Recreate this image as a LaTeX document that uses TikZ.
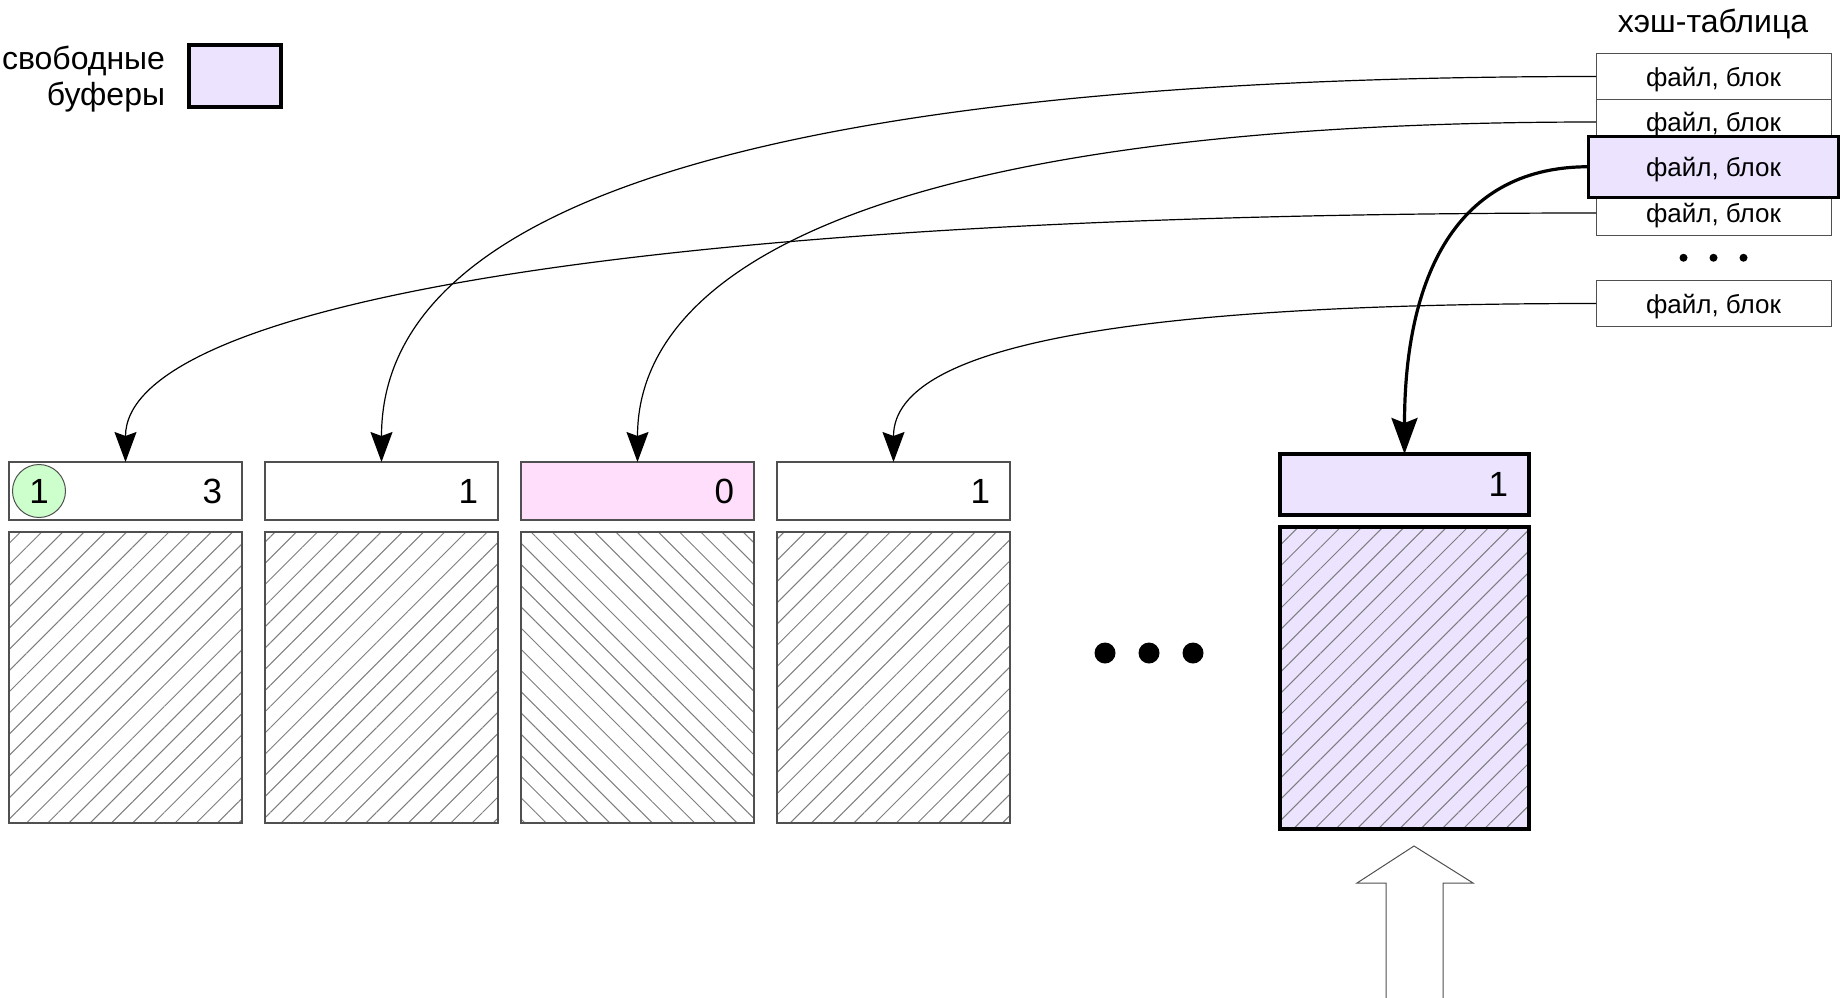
\documentclass[tikz,border=0pt]{standalone}
\usepackage{fontspec}
\setmainfont{Liberation Sans}
\usetikzlibrary{arrows.meta,positioning,patterns.meta}
\definecolor{freebuf}{RGB}{236,228,255}
\definecolor{pinkbuf}{RGB}{255,222,252}
\definecolor{lockgreen}{RGB}{204,255,204}
\definecolor{edgegray}{RGB}{80,80,80}
\definecolor{hatchgray}{RGB}{125,125,125}

\begin{document}
\begin{tikzpicture}[x=1pt,y=-1pt]
\tikzstyle{hrow}=[rectangle,draw=edgegray,line width=1pt,outer sep=0pt,
inner sep=0pt,minimum width=235pt,minimum height=45.5pt,text depth=0pt,
font=\fontsize{26}{30}\selectfont]
\tikzstyle{hsel}=[hrow,draw=black,line width=3.5pt,fill=freebuf,
minimum width=250pt,minimum height=61pt]
\tikzstyle{hdr}=[rectangle,draw=edgegray,line width=1.3pt,outer sep=0pt,
inner xsep=20pt,inner ysep=0pt,text width=193pt,align=right,
minimum height=58pt,font=\fontsize{35}{40}\selectfont]
\tikzstyle{bighdr}=[hdr,draw=black,line width=3.5pt,fill=freebuf,
inner xsep=21pt,text width=207pt,minimum height=61pt]
\tikzstyle{data}=[rectangle,draw=edgegray,line width=1.3pt,outer sep=0pt,
minimum width=233pt,minimum height=291pt,pattern color=hatchgray,
pattern={Lines[angle=45,distance=15pt,line width=1pt]}]
\tikzstyle{bigdata}=[data,draw=black,line width=3.5pt,preaction={fill=freebuf},
minimum width=249pt,minimum height=302pt]
\tikzstyle{lock}=[circle,draw=edgegray,line width=1pt,fill=lockgreen,
inner sep=0pt,minimum size=53pt,font=\fontsize{35}{40}\selectfont]
\tikzstyle{link}=[line width=1.2pt,-{Stealth[length=30pt,width=22pt,inset=4pt]}]
\tikzstyle{hotlink}=[line width=3.2pt,-{Stealth[length=36pt,width=26pt,inset=5pt]}]

\useasboundingbox (0,0) rectangle (1841,998);

% legend
\node[rectangle,draw=black,line width=3.5pt,fill=freebuf,
minimum width=92pt,minimum height=62pt] (leg) at (235,76) {};
\node[left=22pt of leg,yshift=-3pt,align=right,inner sep=0pt,
font=\fontsize{32}{36}\selectfont] (legtxt) {свободные\\буферы};

% hash table
\node[anchor=base,font=\fontsize{32}{36}\selectfont] (htitle) at (1713,33) {хэш-таблица};
\node[hrow] at (1713.5,76.5) (h1) {файл, блок};
\node[hrow,below=0pt of h1] (h2) {файл, блок};
\node[hrow,below=45.5pt of h2] (h4) {файл, блок};
\node[hsel,below=-8.5pt of h2] (h3) {файл, блок};
\foreach \dx in {-30,0,30}
  \fill ([xshift=\dx pt,yshift=-22pt]h4.south) circle (4);
\node[hrow,below=45pt of h4] (h5) {файл, блок};

% buffers
\node[hdr] at (125.5,491) (b1) {3};
\node[hdr,right=23pt of b1] (b2) {1};
\node[hdr,right=23pt of b2,fill=pinkbuf] (b3) {0};
\node[hdr,right=23pt of b3] (b4) {1};
\node[data,below=12pt of b1] (d1) {};
\node[data,below=12pt of b2] (d2) {};
\node[data,below=12pt of b3,
pattern={Lines[angle=-45,distance=15pt,line width=1pt]}] (d3) {};
\node[data,below=12pt of b4] (d4) {};
\node[lock] at ([xshift=30pt]b1.west) (lk) {1};

\foreach \x in {1105,1149,1193}
  \fill (\x,653) circle (10.5);

\node[bighdr] at (1404.5,484.5) (bx) {1};
\node[bigdata,below=12pt of bx] (dx) {};

% incoming block
\draw[edgegray,line width=1pt] (1386,998) -- (1386,883) -- (1357,883)
  -- (1414,846) -- (1473,883) -- (1443,883) -- (1443,998);

\draw[link] (h1.west) .. controls +(-1000,0) and +(0,-200) .. (b2.north);
\draw[link] (h2.west) .. controls +(-700,0) and +(0,-200) .. (b3.north);
\draw[link] (h4.west) .. controls +(-1000,0) and +(0,-150) .. (b1.north);
\draw[link] (h5.west) .. controls +(-450,0) and +(0,-120) .. (b4.north);
\draw[hotlink] (h3.west) .. controls +(-140,0) and +(0,-165) .. (bx.north);

\end{tikzpicture}
\end{document}
